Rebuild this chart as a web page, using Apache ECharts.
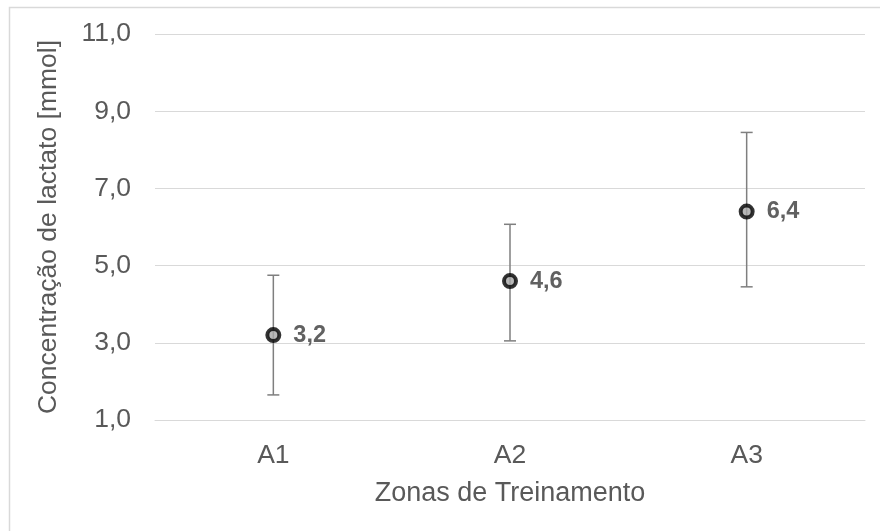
<!DOCTYPE html>
<html>
<head>
<meta charset="utf-8">
<script src="https://cdn.jsdelivr.net/npm/echarts@6/dist/echarts.min.js"></script>
<style>html,body{margin:0;padding:0;background:#fff}#c{width:880px;height:531px}</style>
</head>
<body>
<div id="c"></div>
<script>
const categories = ['A1', 'A2', 'A3'];
const means = [3.2, 4.6, 6.4];
const lowerBounds = [1.65, 3.05, 4.45];
const upperBounds = [4.75, 6.07, 8.45];
const yTicks = [1, 3, 5, 7, 9, 11];

const FONT = 'Liberation Sans, Arial, sans-serif';
const fmt = v => v.toFixed(1).replace('.', ',');

const chart = echarts.init(document.getElementById('c'), null, {renderer: 'canvas'});

const errData = categories.map((c, i) => [i, lowerBounds[i], upperBounds[i]]);

chart.setOption({
  animation: false,
  backgroundColor: '#ffffff',
  graphic: [{
    type: 'rect',
    shape: {x: 9.5, y: 7.5, width: 900, height: 600},
    style: {fill: 'none', stroke: '#d9d9d9', lineWidth: 1.5},
    silent: true
  }],
  grid: {left: 155, right: 15, top: 34, bottom: 111},
  xAxis: {
    type: 'category',
    data: categories,
    boundaryGap: true,
    axisLine: {show: true, lineStyle: {color: '#d9d9d9', width: 1}},
    axisTick: {show: false},
    axisLabel: {color: '#595959', fontFamily: FONT, fontSize: 26.5, margin: 22},
    name: 'Zonas de Treinamento',
    nameLocation: 'middle',
    nameGap: 60,
    nameTextStyle: {color: '#595959', fontFamily: FONT, fontSize: 27}
  },
  yAxis: {
    type: 'value',
    min: yTicks[0],
    max: yTicks[yTicks.length - 1],
    interval: 2,
    axisLine: {show: false},
    axisTick: {show: false},
    splitLine: {show: true, lineStyle: {color: '#d9d9d9', width: 1}},
    axisLabel: {color: '#595959', fontFamily: FONT, fontSize: 26.5, margin: 24, formatter: v => fmt(v)},
    name: 'Concentração de lactato [mmol]',
    nameLocation: 'middle',
    nameGap: 93,
    nameRotate: 90,
    nameTextStyle: {color: '#595959', fontFamily: FONT, fontSize: 26.5}
  },
  series: [
    {
      type: 'custom',
      z: 2,
      silent: true,
      data: errData,
      renderItem: function (params, api) {
        const x = api.value(0);
        const lo = api.coord([x, api.value(1)]);
        const hi = api.coord([x, api.value(2)]);
        const hw = 6;
        const style = {stroke: '#7f7f7f', lineWidth: 1.5};
        return {
          type: 'group',
          children: [
            {type: 'line', shape: {x1: lo[0], y1: lo[1], x2: hi[0], y2: hi[1]}, style},
            {type: 'line', shape: {x1: lo[0] - hw, y1: lo[1], x2: lo[0] + hw, y2: lo[1]}, style},
            {type: 'line', shape: {x1: hi[0] - hw, y1: hi[1], x2: hi[0] + hw, y2: hi[1]}, style}
          ]
        };
      }
    },
    {
      type: 'scatter',
      z: 3,
      data: means.map((m, i) => [i, m]),
      symbol: 'circle',
      symbolSize: 12,
      itemStyle: {color: '#a6a6a6', borderColor: '#000000', borderWidth: 4},
      label: {
        show: true,
        position: 'right',
        distance: 12,
        color: '#3a3a3a',
        fontFamily: FONT,
        fontSize: 23.5,
        fontWeight: 'bold',
        formatter: p => fmt(p.value[1])
      }
    }
  ]
});
</script>
</body>
</html>
